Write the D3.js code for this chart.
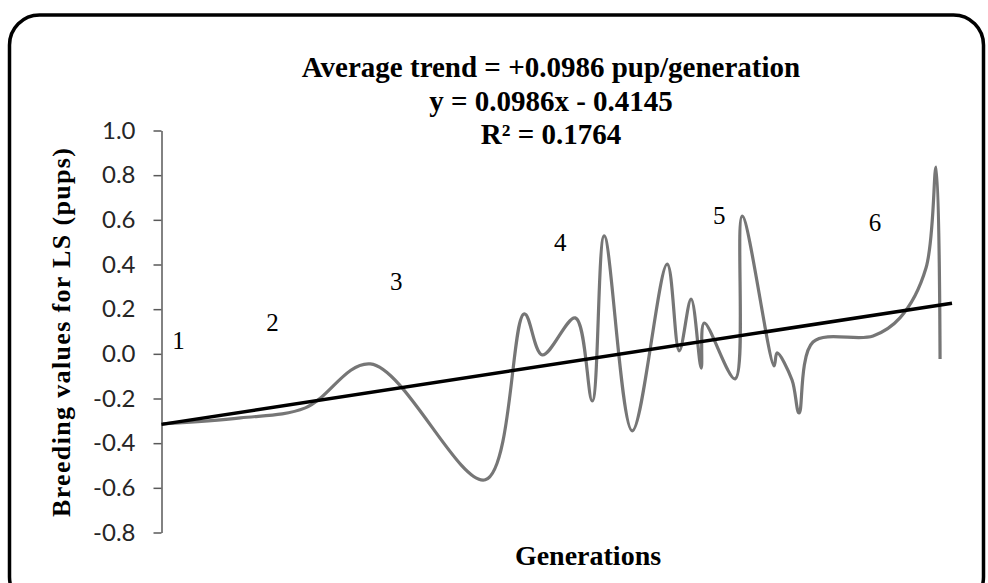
<!DOCTYPE html>
<html>
<head>
<meta charset="utf-8">
<script src="https://cdn.jsdelivr.net/npm/d3@7"></script>
<style>
	html, body { margin: 0; padding: 0; background: #fff; }
	#canvas { width: 988px; height: 583px; overflow: hidden; }
</style>
</head>
<body>
<div id="canvas"></div>
<script>
// breeding values along the generation axis (smoothed line)
const generations = [1.0, 1.549, 2.001, 2.453, 3.253, 3.524, 3.649, 3.879, 3.997, 4.08, 4.275, 4.518, 4.602, 4.685, 4.755, 4.776, 4.991, 5.04, 5.262, 5.283, 5.387, 5.436, 5.533, 5.951, 6.138, 6.319, 6.389, 6.417];
const breedingValues = [-0.314, -0.287, -0.242, -0.045, -0.564, 0.179, -0.005, 0.161, -0.211, 0.528, -0.345, 0.402, 0.013, 0.245, -0.064, 0.138, -0.112, 0.617, -0.054, 0.004, -0.117, -0.265, 0.053, 0.08, 0.161, 0.384, 0.836, -0.023];

// generation labels 1..6 placed in chart space
const genLabels = ['1', '2', '3', '4', '5', '6'];
const genLabelX = [1.118, 1.772, 2.634, 3.774, 4.88, 5.965];
const genLabelY = [0.062, 0.142, 0.326, 0.5, 0.622, 0.59];

const yTicks = [-0.8, -0.6, -0.4, -0.2, 0.0, 0.2, 0.4, 0.6, 0.8, 1.0];
const trendSlope = 0.0986;
const trendIntercept = -0.4145;
const xDomain = [1, 6.5];
const yDomain = [-0.8, 1.0];

const titleLines = ['Average trend = +0.0986 pup/generation', 'y = 0.0986x - 0.4145', 'R\u00b2 = 0.1764'];

const chart = {
	width: 988,
	height: 583,
	plot: { left: 161.5, right: 952, top: 130.5, bottom: 532.5 },
};

drawChart();

function drawChart() {
	const { width, height, plot } = chart;
	const svg = d3.select('#canvas').append('svg').attr('width', width).attr('height', height);

	// rounded frame
	svg.append('rect')
		.attr('x', 9.5)
		.attr('y', 15)
		.attr('width', 974)
		.attr('height', 592)
		.attr('rx', 30)
		.attr('fill', 'none')
		.attr('stroke', '#000')
		.attr('stroke-width', 3.5);

	const x = d3.scaleLinear().domain(xDomain).range([plot.left, plot.right]);
	const y = d3.scaleLinear().domain(yDomain).range([plot.bottom, plot.top]);

	// excel style labels: plain hyphen for negatives
	const fmt = d => d3.format('.1f')(d).replace('\u2212', '-');

	const yAxis = svg.append('g')
		.attr('transform', `translate(${plot.left},0)`)
		.call(d3.axisLeft(y).tickValues(yTicks).tickFormat(fmt).tickSize(8).tickSizeOuter(0).tickPadding(18));
	yAxis.select('.domain').attr('stroke', '#595959').attr('stroke-width', 1.5);
	yAxis.selectAll('.tick line').attr('stroke', '#595959').attr('stroke-width', 1.5);
	yAxis.selectAll('.tick text')
		.attr('fill', '#262626')
		.style('font-family', 'Lato, "Open Sans", sans-serif')
		.style('font-size', '24px');

	// smoothed data line
	const points = generations.map((g, i) => [g, breedingValues[i]]);
	const line = d3.line()
		.x(d => x(d[0]))
		.y(d => y(d[1]))
		.curve(d3.curveCatmullRom.alpha(0.5));
	svg.append('path')
		.datum(points)
		.attr('d', line)
		.attr('fill', 'none')
		.attr('stroke', '#767676')
		.attr('stroke-width', 3.2)
		.attr('stroke-linejoin', 'round');

	// linear trend line
	const trend = xDomain.map(g => [g, trendSlope * g + trendIntercept]);
	svg.append('path')
		.datum(trend)
		.attr('d', d3.line().x(d => x(d[0])).y(d => y(d[1])))
		.attr('stroke', '#000')
		.attr('stroke-width', 3.5);

	// generation numbers
	svg.append('g')
		.selectAll('text')
		.data(genLabels)
		.join('text')
		.attr('x', (d, i) => x(genLabelX[i]))
		.attr('y', (d, i) => y(genLabelY[i]))
		.attr('dy', '0.35em')
		.attr('text-anchor', 'middle')
		.style('font-family', '"Liberation Serif", "Times New Roman", serif')
		.style('font-size', '25px')
		.text(d => d);

	// title block
	svg.append('g')
		.selectAll('text')
		.data(titleLines)
		.join('text')
		.attr('x', 551)
		.attr('y', (d, i) => 77 + i * 33.5)
		.attr('text-anchor', 'middle')
		.style('font-family', '"Liberation Serif", "Times New Roman", serif')
		.style('font-weight', 'bold')
		.style('font-size', '29px')
		.text(d => d);

	svg.append('text')
		.attr('x', 588)
		.attr('y', 565)
		.attr('text-anchor', 'middle')
		.style('font-family', '"Liberation Serif", "Times New Roman", serif')
		.style('font-weight', 'bold')
		.style('font-size', '28px')
		.text('Generations');

	svg.append('text')
		.attr('transform', 'translate(70,332.5) rotate(-90)')
		.attr('text-anchor', 'middle')
		.attr('textLength', 369)
		.attr('lengthAdjust', 'spacing')
		.style('font-family', '"Liberation Serif", "Times New Roman", serif')
		.style('font-weight', 'bold')
		.style('font-size', '26px')
		.text('Breeding values for LS (pups)');
}
</script>
</body>
</html>
